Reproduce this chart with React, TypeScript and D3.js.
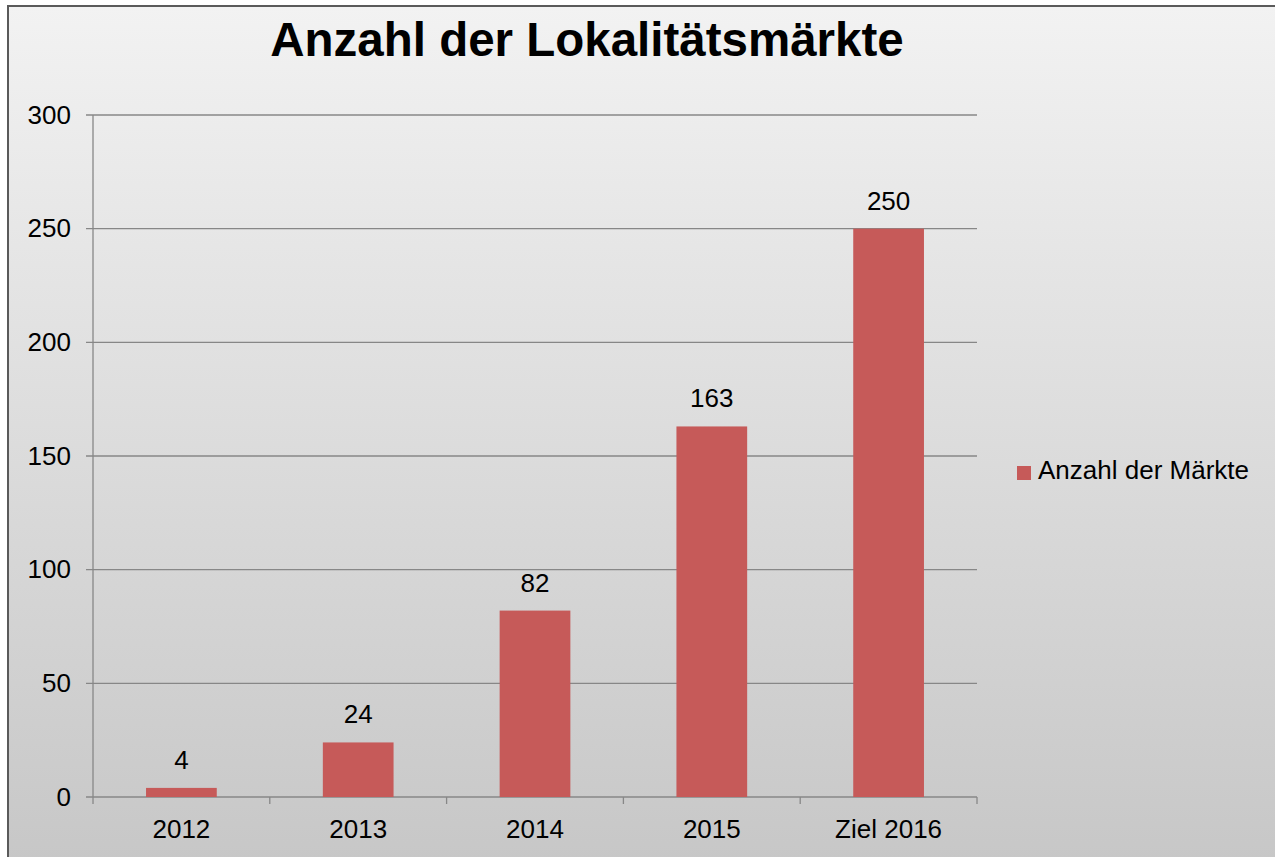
import React from "react";
import * as d3 from "d3";

const categories = ["2012", "2013", "2014", "2015", "Ziel 2016"];
const values = [4, 24, 82, 163, 250];
const yTicks = [0, 50, 100, 150, 200, 250, 300];
const title = "Anzahl der Lokalitätsmärkte";
const seriesName = "Anzahl der Märkte";

export default function App() {
  const W = 1275, H = 857;
  const left = 93, right = 977, top = 115, bottom = 797;
  const x = d3.scaleBand<string>().domain(categories).range([left, right]);
  const y = d3.scaleLinear().domain([0, 300]).range([bottom, top]);
  const bw = x.bandwidth() * 0.4;
  const font = "Liberation Sans, Arial, sans-serif";
  const barColor = "#c65a59";
  const fs = 26;
  return (
    <svg width={W} height={H} style={{ position: "absolute", left: 0, top: 0 }}>
      <defs>
        <linearGradient id="bg" x1="0" y1="0" x2="0" y2="1">
          <stop offset="0" stopColor="#f2f2f2" />
          <stop offset="1" stopColor="#c6c6c6" />
        </linearGradient>
      </defs>
      <rect x={0} y={0} width={W} height={H} fill="#fff" />
      <rect x={8} y={6} width={W + 20} height={H + 20} fill="url(#bg)" stroke="#5a5a5a" strokeWidth={2} />
      <text x={587} y={56} textAnchor="middle" fontFamily={font} fontWeight="bold" fontSize={47.5} fill="#000">{title}</text>
      {yTicks.map((t) => (
        <g key={t}>
          <line x1={left - 7} x2={right} y1={y(t)} y2={y(t)} stroke="#878787" strokeWidth={1.3} />
          <text x={71} y={y(t) + 8.5} textAnchor="end" fontFamily={font} fontSize={fs} fill="#000">{t}</text>
        </g>
      ))}
      <line x1={left} x2={left} y1={top} y2={bottom} stroke="#878787" strokeWidth={1.3} />
      {categories.map((c, i) => (
        <line key={"t" + i} x1={x(c)!} x2={x(c)!} y1={bottom} y2={bottom + 7} stroke="#878787" strokeWidth={1.3} />
      ))}
      <line x1={right} x2={right} y1={bottom} y2={bottom + 7} stroke="#878787" strokeWidth={1.3} />
      {categories.map((c, i) => {
        const cx = x(c)! + x.bandwidth() / 2;
        return (
          <g key={c}>
            <rect x={cx - bw / 2} y={y(values[i])} width={bw} height={bottom - y(values[i])} fill={barColor} />
            <text x={cx} y={y(values[i]) - 19} textAnchor="middle" fontFamily={font} fontSize={fs} fill="#000">{values[i]}</text>
            <text x={cx} y={bottom + 41} textAnchor="middle" fontFamily={font} fontSize={fs} fill="#000">{c}</text>
          </g>
        );
      })}
      <rect x={1017} y={466} width={14} height={14} fill={barColor} />
      <text x={1038} y={479} fontFamily={font} fontSize={fs} fill="#000">{seriesName}</text>
    </svg>
  );
}
